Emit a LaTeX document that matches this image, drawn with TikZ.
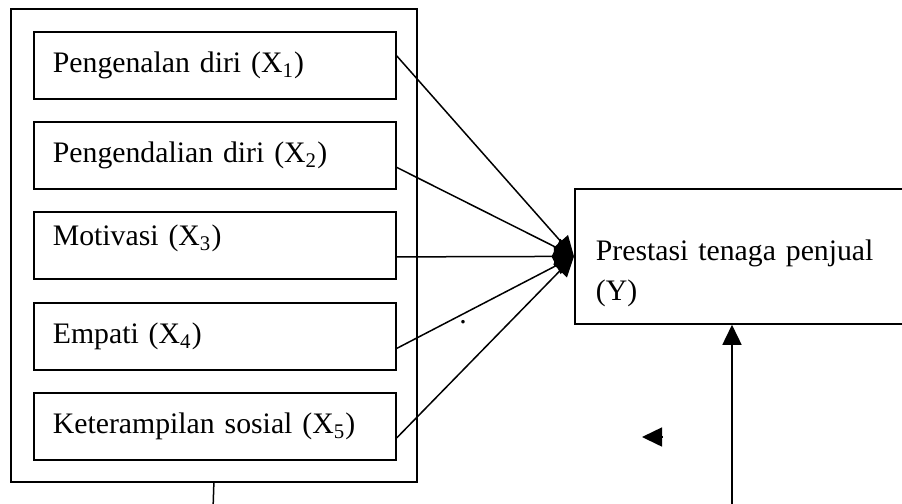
\documentclass[tikz,border=0pt]{standalone}
\usepackage{fontspec}
\setmainfont{Liberation Serif}
\usetikzlibrary{arrows.meta}

\begin{document}
\begin{tikzpicture}[x=0.4pt,y=-0.4pt,
  every node/.style={font=\fontsize{11.9}{16}\selectfont},
  varbox/.style={draw, line width=0.7pt, anchor=north west, text width=129.6pt,
    align=left, inner xsep=7.6pt, inner ysep=0pt, text height=16.4pt, text depth=10.4pt},
  arr/.style={line width=0.6pt, -{Triangle[length=8pt,width=7.6pt]}}]
\useasboundingbox (0,0) rectangle (902,503);
% variabel bebas
\node[draw, line width=0.7pt, anchor=north west, minimum width=162.4pt,
  minimum height=189.2pt, inner sep=0pt] (outer) at (10,8) {};
\node[varbox] (b1) at (33,31) {Pengenalan diri (X\textsubscript{1})};
\node[varbox] (b2) at (33,121) {Pengendalian diri (X\textsubscript{2})};
\node[varbox, text height=13.6pt, text depth=13.2pt] (b3) at (33,211) {Motivasi (X\textsubscript{3})};
\node[varbox] (b4) at (33,302) {Empati (X\textsubscript{4})};
\node[varbox] (b5) at (33,392) {Keterampilan sosial (X\textsubscript{5})};
% variabel terikat
\node[draw, line width=0.7pt, anchor=north west, text width=125.6pt, align=left,
  inner xsep=8.4pt, inner ysep=0pt, text height=28.8pt, text depth=25.2pt] (y) at (574,188)
  {Prestasi tenaga penjual\hfill\\(Y)};
\draw[arr] ([yshift=3.8pt]b1.east) -- (y.west);
\draw[arr] ([yshift=-4.8pt]b2.east) -- (y.west);
\draw[arr] ([yshift=-4.6pt]b3.east) -- (y.west);
\draw[arr] ([yshift=-4.8pt]b4.east) -- (y.west);
\draw[arr] ([yshift=-4.6pt]b5.east) -- (y.west);
\node[inner sep=0pt] (dot) at (463,322) {.};
% simultan
\coordinate (p1) at (213,510);
\coordinate (p2) at (732,510);
\draw[line width=0.6pt] (outer.south) -- (p1);
\draw[arr] (p2) -- (p2 |- y.south);
\coordinate (s1) at (662,437);
\coordinate (s2) at (642,437);
\draw[arr] (s1) -- (s2);
\end{tikzpicture}
\end{document}
